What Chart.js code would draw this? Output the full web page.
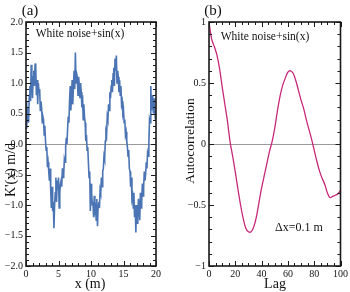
<!DOCTYPE html>
<html>
<head>
<meta charset="utf-8">
<script src="https://cdn.jsdelivr.net/npm/chart.js@4.4.0/dist/chart.umd.min.js"></script>
<style>
body { margin: 0; background: #fff; width: 350px; height: 292px; overflow: hidden; position: relative; }
canvas { position: absolute; top: 0; }
</style>
</head>
<body>
<canvas id="chartA" width="175" height="292" style="left:0"></canvas>
<canvas id="chartB" width="175" height="292" style="left:175px"></canvas>
<script>
// (a) K'(x) = ruido blanco + sin(x), dx = 0.1 m
var kValues = [
    0.70, 0.25, 0.55, 0.60, 0.35, 0.80, 0.95, 0.70, 1.30, 1.05,
    0.75, 1.10, 1.20, 0.95, 1.32, 1.25, 0.80, 1.05, 0.65, 1.00,
    0.85, 0.90, 0.55, 0.70, 0.60, 0.35, 0.45, 0.40, 0.15, 0.30,
    0.05, -0.10, -0.05, -0.38, -0.30, -0.45, -0.60, -0.40, -0.75, -1.05,
    -0.70, -1.10, -0.95, -1.38, -1.00, -0.80, -0.55, -0.95, -0.60, -0.75,
    -0.55, -1.05, -0.80, -0.65, -0.60, -0.70, -0.40, -0.55, -0.50, -0.25,
    -0.30, -0.05, 0.10, 0.00, 0.25, 0.45, 0.35, 0.70, 0.95, 0.55,
    0.80, 1.05, 0.65, 0.95, 1.20, 0.90, 1.50, 1.00, 1.15, 1.10,
    0.80, 1.10, 0.95, 0.75, 1.00, 0.85, 0.60, 0.80, 0.40, 0.65,
    0.45, 0.35, 0.05, 0.15, -0.10, -0.05, -0.30, -0.55, -0.45, -1.10,
    -0.65, -0.80, -1.00, -0.95, -1.20, -0.85, -1.10, -1.05, -1.25, -0.90,
    -1.35, -1.00, -0.95, -1.05, -0.75, -0.80, -0.55, -0.70, -0.45, -0.40,
    -0.20, -0.25, 0.05, 0.20, 0.15, 0.45, 0.40, 0.65, 0.55, 0.85,
    0.75, 0.95, 1.05, 0.85, 1.15, 1.25, 0.95, 1.40, 1.20, 1.45,
    1.00, 1.20, 1.10, 0.85, 1.05, 0.80, 0.95, 0.65, 0.70, 0.50,
    0.55, 0.35, 0.40, 0.15, 0.20, 0.05, -0.05, -0.20, -0.10, -0.40,
    -0.45, -0.70, -0.55, -0.90, -0.85, -1.05, -0.80, -1.20, -1.00, -1.45,
    -1.00, -1.30, -1.15, -0.90, -1.10, -1.25, -0.80, -1.05, -0.95, -0.65,
    -0.85, -0.70, -0.45, -0.60, -0.50, -0.30, -0.40, -0.15, -0.20, 0.00,
    0.40, 0.35, 0.95, 0.55, 0.80, 0.70, 0.50, 0.75, 0.60, 0.40,
    0.55
];
var kStep = 0.1;

// (b) autocorrelación, lag cada 2
var lags = [0, 2, 4, 6, 8, 10, 12, 14, 16, 18, 20, 22, 24, 26, 28, 30, 32, 34, 36, 38, 40,
    42, 44, 46, 48, 50, 52, 54, 56, 58, 60, 62, 64, 66, 68, 70, 72, 74, 76, 78, 80,
    82, 84, 86, 88, 90, 92, 94, 96, 98, 100];
var acfValues = [1.00, 0.86, 0.80, 0.73, 0.62, 0.47, 0.33, 0.19, 0.02, -0.10, -0.23,
    -0.37, -0.50, -0.61, -0.69, -0.72, -0.72, -0.68, -0.60, -0.48, -0.36,
    -0.26, -0.16, -0.06, 0.02, 0.13, 0.27, 0.39, 0.48, 0.54, 0.59,
    0.60, 0.58, 0.52, 0.44, 0.36, 0.29, 0.20, 0.12, 0.04, -0.05,
    -0.14, -0.22, -0.28, -0.33, -0.40, -0.44, -0.43, -0.42, -0.41, -0.38];

var serif = "'Liberation Serif', 'DejaVu Serif', serif";

function fmtA(v) {
    return (v < 0 ? '\u2212' : '') + Math.abs(v).toFixed(1);
}
function fmtB(v) {
    return (v < 0 ? '\u2212' : '') + Math.abs(v);
}

// ticks hacia adentro en los cuatro lados + marco + linea del cero
function framePlugin(xMinor, xMajor, yMinor, yMajor, labels) {
    return {
        id: 'frame',
        beforeDatasetsDraw(chart) {
            const { ctx, chartArea: a, scales: { y } } = chart;
            const y0 = Math.round(y.getPixelForValue(0)) + 0.5;
            ctx.save();
            ctx.strokeStyle = '#9a9a9a';
            ctx.lineWidth = 1;
            ctx.beginPath();
            ctx.moveTo(a.left, y0);
            ctx.lineTo(a.right, y0);
            ctx.stroke();
            ctx.restore();
        },
        afterDatasetsDraw(chart) {
            const { ctx, chartArea: a, scales: { x, y } } = chart;
            ctx.save();
            ctx.strokeStyle = '#1a1a1a';
            ctx.lineWidth = 1;
            ctx.beginPath();
            const nx = Math.round((x.max - x.min) / xMinor);
            for (let i = 0; i <= nx; i++) {
                const v = x.min + i * xMinor;
                const r = v / xMajor;
                const len = Math.abs(r - Math.round(r)) < 1e-6 ? 5 : 3;
                const px = Math.round(x.getPixelForValue(v)) + 0.5;
                ctx.moveTo(px, a.bottom); ctx.lineTo(px, a.bottom - len);
                ctx.moveTo(px, a.top); ctx.lineTo(px, a.top + len);
            }
            const ny = Math.round((y.max - y.min) / yMinor);
            for (let i = 0; i <= ny; i++) {
                const v = y.min + i * yMinor;
                const r = v / yMajor;
                const len = Math.abs(r - Math.round(r)) < 1e-6 ? 5 : 3;
                const py = Math.round(y.getPixelForValue(v)) + 0.5;
                ctx.moveTo(a.left, py); ctx.lineTo(a.left + len, py);
                ctx.moveTo(a.right, py); ctx.lineTo(a.right - len, py);
            }
            ctx.stroke();
            ctx.lineWidth = 1.6;
            ctx.strokeRect(a.left, a.top, a.right - a.left, a.bottom - a.top);
            ctx.restore();
        },
        afterDraw(chart) {
            const ctx = chart.ctx;
            ctx.save();
            ctx.fillStyle = '#111';
            labels.forEach(l => {
                ctx.save();
                ctx.font = l.size + 'px ' + serif;
                ctx.textAlign = 'center';
                ctx.textBaseline = 'middle';
                ctx.translate(l.x, l.y);
                if (l.rot) ctx.rotate(-Math.PI / 2);
                ctx.fillText(l.text, 0, 0);
                ctx.restore();
            });
            ctx.restore();
        }
    };
}

function axisOpts(min, max, step, fmt, isX, size) {
    return {
        type: 'linear',
        min: min,
        max: max,
        grid: { display: false, drawTicks: false },
        border: { display: false },
        ticks: {
            stepSize: step,
            color: '#111',
            font: { family: serif, size: 10 },
            padding: isX ? 2 : 3,
            maxRotation: 0,
            autoSkip: false,
            callback: fmt
        },
        afterFit: isX ? (s) => { s.height = size; } : (s) => { s.width = size; }
    };
}

var kData = kValues.map((v, i) => ({ x: i * kStep, y: v }));
var acfData = acfValues.map((v, i) => ({ x: lags[i], y: v }));

new Chart(document.getElementById('chartA').getContext('2d'), {
    type: 'line',
    data: {
        datasets: [{
            data: kData,
            borderColor: '#4a74b3',
            borderWidth: 1.6,
            pointRadius: 0,
            tension: 0
        }]
    },
    options: {
        responsive: false,
        animation: false,
        devicePixelRatio: 1,
        layout: { padding: { top: 22, right: 19, left: 0, bottom: 0 } },
        scales: {
            x: axisOpts(0, 20, 5, (v) => v, true, 26),
            y: axisOpts(-2, 2, 0.5, fmtA, false, 26)
        },
        plugins: { legend: { display: false }, tooltip: { enabled: false } }
    },
    plugins: [framePlugin(1, 5, 0.1, 0.5, [
        { text: '(a)', x: 30, y: 11, size: 15 },
        { text: 'White noise+sin(x)', x: 80, y: 34, size: 11.5 },
        { text: "K'(x) m/d", x: 11, y: 170, size: 14, rot: true },
        { text: 'x (m)', x: 90, y: 284, size: 14 }
    ])]
});

new Chart(document.getElementById('chartB').getContext('2d'), {
    type: 'line',
    data: {
        datasets: [{
            data: acfData,
            borderColor: '#c8287a',
            borderWidth: 1.3,
            pointRadius: 0,
            tension: 0.3
        }]
    },
    options: {
        responsive: false,
        animation: false,
        devicePixelRatio: 1,
        layout: { padding: { top: 22, right: 9, left: 0, bottom: 0 } },
        scales: {
            x: axisOpts(0, 100, 20, (v) => v, true, 26),
            y: axisOpts(-1, 1, 0.5, fmtB, false, 34)
        },
        plugins: { legend: { display: false }, tooltip: { enabled: false } }
    },
    plugins: [framePlugin(5, 20, 0.1, 0.5, [
        { text: '(b)', x: 38, y: 11, size: 15 },
        { text: 'White noise+sin(x)', x: 90, y: 37, size: 11.5 },
        { text: 'Autocorrelation', x: 15, y: 141, size: 13.5, rot: true },
        { text: 'Lag', x: 100, y: 284, size: 14 },
        { text: '\u0394x=0.1 m', x: 124, y: 228, size: 12 }
    ])]
});
</script>
</body>
</html>
